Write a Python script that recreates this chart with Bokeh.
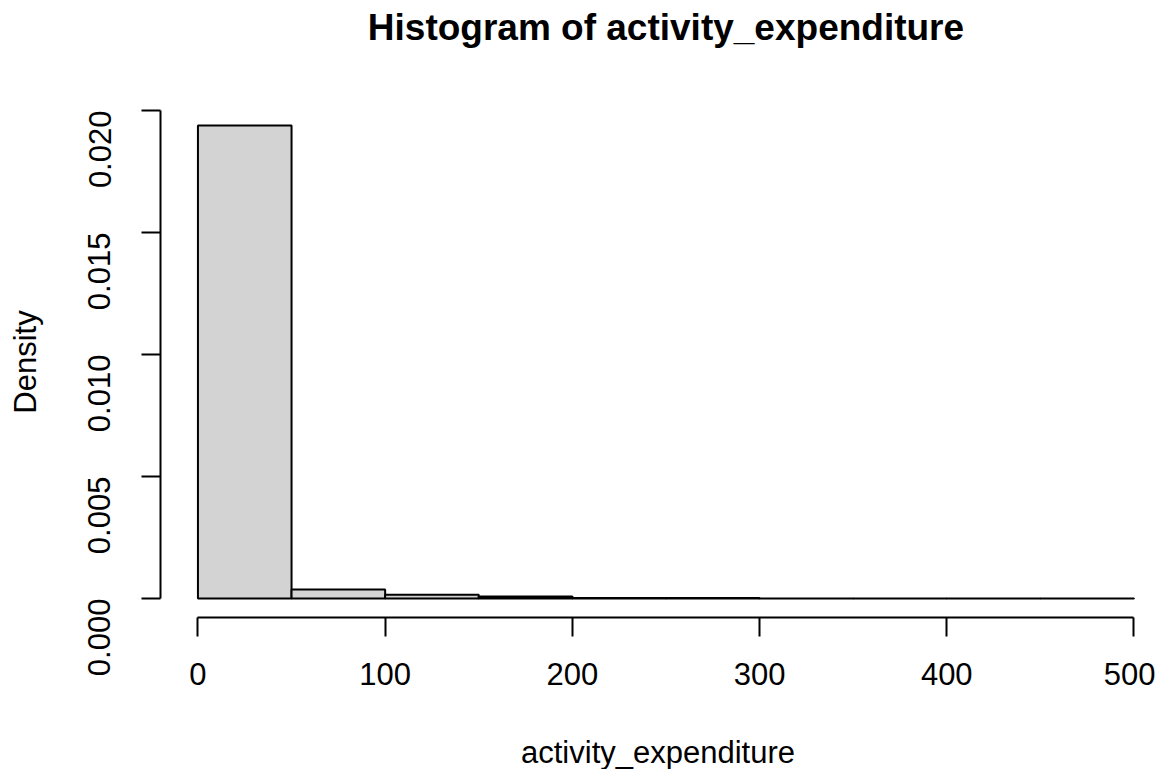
import numpy as np
from bokeh.plotting import figure
from bokeh.layouts import column
from bokeh.models import FixedTicker, NumeralTickFormatter, Range1d, Label
from bokeh.embed import file_html
from bokeh.resources import INLINE

# ---- data ----
bin_left = [0, 50, 100, 150, 200, 250, 300, 350, 400, 450]
bin_right = [50, 100, 150, 200, 250, 300, 350, 400, 450, 500]
density = [0.01939, 0.00037, 0.00016, 0.00008, 0.00002, 0.00002,
           0.000005, 0.000005, 0.000005, 0.000005]
x_ticks = [0, 100, 200, 300, 400, 500]
y_ticks = [0.000, 0.005, 0.010, 0.015, 0.020]
title_text = "Histogram of activity_expenditure"
x_label = "activity_expenditure"
y_label = "Density"

FONT = "Liberation Sans"

LEFT = 160
FRAME_W, FRAME_H = 995, 511
TOP_H = 106

x_rng = (-20, 511.5)

# ---- title strip (its own small svg figure, frame aligned with the main plot) ----
t = figure(frame_width=FRAME_W, frame_height=TOP_H,
           x_range=Range1d(*x_rng), y_range=Range1d(0, TOP_H),
           x_axis_type=None, y_axis_type=None, output_backend="svg", toolbar_location=None,
           min_border_left=LEFT, min_border_right=0, min_border_top=0, min_border_bottom=0)
t.outline_line_color = None
t.xgrid.visible = False
t.ygrid.visible = False
t.add_layout(Label(x=250, y=TOP_H - 27, text=title_text,
                   text_font=FONT, text_font_size="37px", text_font_style="bold",
                   text_color="black", text_align="center", text_baseline="alphabetic"))

# ---- main histogram ----
ymax = max(density)
p = figure(
    frame_width=FRAME_W, frame_height=FRAME_H,
    x_range=Range1d(*x_rng), y_range=Range1d(-0.04 * ymax, 1.04 * ymax),
    output_backend="svg", toolbar_location=None,
    min_border_left=LEFT, min_border_top=0, min_border_right=0, min_border_bottom=0,
)
p.outline_line_color = None
p.xgrid.visible = False
p.ygrid.visible = False
p.background_fill_color = "white"

p.quad(left=bin_left, right=bin_right, bottom=0, top=density,
       fill_color="#D3D3D3", line_color="black", line_width=2)

for ax in (p.xaxis[0], p.yaxis[0]):
    ax.axis_line_width = 2
    ax.major_tick_line_width = 2
    ax.major_tick_out = 19
    ax.major_tick_in = 0
    ax.minor_tick_line_color = None
    ax.major_label_text_font = FONT
    ax.major_label_text_font_size = "31px"
    ax.major_label_text_color = "black"
    ax.axis_label_text_font = FONT
    ax.axis_label_text_font_size = "31px"
    ax.axis_label_text_font_style = "normal"
    ax.axis_label_text_color = "black"

xa = p.xaxis[0]
xa.ticker = FixedTicker(ticks=x_ticks)
xa.bounds = (x_ticks[0], x_ticks[-1])
xa.axis_label = x_label
xa.major_label_standoff = 26
xa.axis_label_standoff = 47

ya = p.yaxis[0]
ya.ticker = FixedTicker(ticks=y_ticks)
ya.bounds = (y_ticks[0], y_ticks[-1])
ya.formatter = NumeralTickFormatter(format="0.000")
ya.major_label_orientation = np.pi / 2
ya.axis_label = y_label
ya.major_label_standoff = 42
ya.axis_label_standoff = 32

layout = column(t, p, spacing=0)
open("out.html", "w").write(file_html(layout, INLINE))
